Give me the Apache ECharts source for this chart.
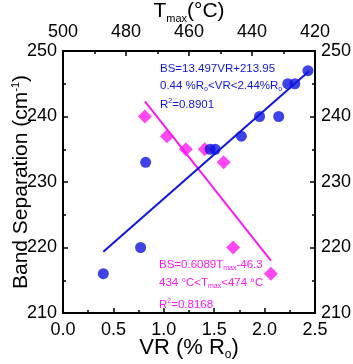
<!DOCTYPE html>
<html>
<head>
<meta charset="utf-8">
<script src="https://cdn.jsdelivr.net/npm/echarts@6/dist/echarts.min.js"></script>
<style>
  html, body { margin: 0; padding: 0; background: #fff; }
  #chart { width: 353px; height: 364px; }
</style>
</head>
<body>
<div id="chart"></div>
<script>
// blue circles: band separation vs VR
var vrValues = [0.40, 0.77, 0.82, 1.46, 1.51, 1.77, 1.95, 2.14, 2.23, 2.30, 2.43];
var vrBS = [216, 220, 233, 235, 235, 237, 240, 240, 245, 245, 247];
// pink diamonds: band separation vs Tmax
var tmaxValues = [474, 467, 461, 455, 449, 446, 434];
var tmaxBS = [240, 237, 235, 235, 233, 220, 216];
// fitted line end points
var vrFitX = [0.40, 2.44];
var vrFitY = [219.35, 246.9];
var tmaxFitX = [474, 434];
var tmaxFitY = [242.3, 218.0];

var blue = '#0f14e0';
var pink = '#ff19f0';
var font = 'Liberation Sans, Arial, sans-serif';

function pairs(xs, ys) {
  return xs.map(function (x, i) { return [x, ys[i]]; });
}

var chartDom = document.getElementById('chart');
var myChart = echarts.init(chartDom);

var axisCommon = {
  nameMoveOverlap: false,
  axisLine: { lineStyle: { color: '#000', width: 2 } },
  axisTick: { inside: true, length: 5, lineStyle: { color: '#000', width: 1.5 } },
  minorTick: { show: true, splitNumber: 2, length: 3, lineStyle: { color: '#000', width: 1.5 } },
  splitLine: { show: false },
  axisLabel: { color: '#000', fontSize: 18, fontFamily: font, showMinLabel: true, showMaxLabel: true }
};

function note(text, left, top, color) {
  return {
    type: 'text',
    left: left,
    top: top,
    style: {
      text: text,
      fill: color,
      font: '11.5px ' + font,
      rich: {
        sub: { fill: color, fontSize: 7, fontFamily: font, padding: [7, 0, 0, 0] },
        sup: { fill: color, fontSize: 7, fontFamily: font, padding: [0, 0, 6, 0] },
        n: { fill: color, fontSize: 11.5, fontFamily: font }
      }
    }
  };
}

var option = {
  animation: false,
  grid: { left: 63, right: 38, top: 51, bottom: 51, outerBoundsMode: 'none' },
  xAxis: [
    Object.assign({}, axisCommon, {
      type: 'value', position: 'bottom', min: 0, max: 2.5, interval: 0.5,
      name: '{n|VR (% R}{sub|o}{n|)}',
      nameLocation: 'middle', nameGap: 22,
      nameTextStyle: { verticalAlign: 'top', rich: { n: { fontSize: 22, fontFamily: font, color: '#000' },
        sub: { fontSize: 12, fontFamily: font, color: '#000', padding: [14, 0, 0, 0] } } },
      axisLabel: Object.assign({}, axisCommon.axisLabel, { margin: 8, formatter: function (v) { return v.toFixed(1); } })
    }),
    Object.assign({}, axisCommon, {
      type: 'value', position: 'top', min: 420, max: 500, interval: 20, inverse: true,
      name: '{n|T}{sub|max}{n|(°C)}',
      nameLocation: 'middle', nameGap: 27,
      nameTextStyle: { rich: { n: { fontSize: 21, fontFamily: font, color: '#000' },
        sub: { fontSize: 11, fontFamily: font, color: '#000', padding: [14, 0, 0, 0] } } },
      axisLabel: Object.assign({}, axisCommon.axisLabel, { margin: 10 })
    }),
  ],
  yAxis: [
    Object.assign({}, axisCommon, {
      type: 'value', position: 'left', min: 210, max: 250, interval: 10,
      name: '{n|Band Separation (cm}{sup|-1}{n|)}',
      nameLocation: 'middle', nameGap: 30,
      nameTextStyle: { rich: { n: { fontSize: 21, fontFamily: font, color: '#000' },
        sup: { fontSize: 11, fontFamily: font, color: '#000', padding: [0, 0, 12, 0] } } },
      axisLabel: Object.assign({}, axisCommon.axisLabel, { margin: 6, padding: [0, 0, 5, 0] })
    }),
    Object.assign({}, axisCommon, {
      type: 'value', position: 'right', min: 210, max: 250, interval: 10,
      axisLabel: Object.assign({}, axisCommon.axisLabel, { margin: 6, padding: [0, 0, 5, 0] })
    })
  ],
  graphic: [
    note('BS=13.497VR+213.95', 160, 63, blue),
    note('{n|0.44 %R}{sub|o}{n|<VR<2.44%R}{sub|o}', 160, 80, blue),
    note('{n|R}{sup|2}{n|=0.8901}', 160, 98, blue),
    note('{n|BS=0.6089T}{sub|max}{n|-46.3}', 159, 259, pink),
    note('{n|434 °C<T}{sub|max}{n|<474 °C}', 159, 277, pink),
    note('{n|R}{sup|2}{n|=0.8168}', 159, 298, pink)
  ],
  series: [
    {
      name: 'Tmax fit', type: 'line', xAxisIndex: 1, yAxisIndex: 0,
      data: pairs(tmaxFitX, tmaxFitY), symbol: 'none',
      lineStyle: { color: pink, width: 2 }, z: 2
    },
    {
      name: 'Tmax', type: 'scatter', xAxisIndex: 1, yAxisIndex: 0,
      data: pairs(tmaxValues, tmaxBS), symbol: 'diamond', symbolSize: 14,
      itemStyle: { color: pink }, z: 3
    },
    {
      name: 'VR fit', type: 'line', xAxisIndex: 0, yAxisIndex: 0,
      data: pairs(vrFitX, vrFitY), symbol: 'none',
      lineStyle: { color: blue, width: 2 }, z: 2
    },
    {
      name: 'VR', type: 'scatter', xAxisIndex: 0, yAxisIndex: 0,
      data: pairs(vrValues, vrBS), symbol: 'circle', symbolSize: 11,
      itemStyle: { color: blue }, z: 4
    }
  ]
};

option && myChart.setOption(option);
window.addEventListener('resize', function () {
  myChart.resize();
});
</script>
</body>
</html>
